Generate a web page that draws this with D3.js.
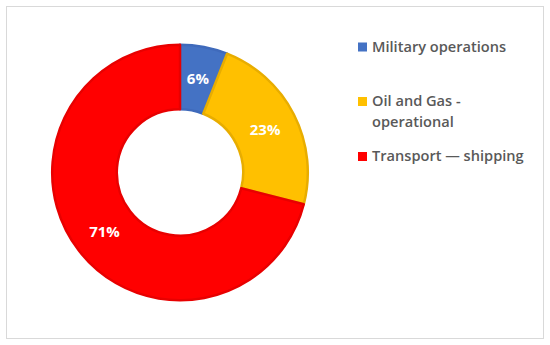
<!DOCTYPE html>
<html>
<head>
<meta charset="utf-8">
<script src="https://cdn.jsdelivr.net/npm/d3@7"></script>
<style>
  body { margin: 0; background: #fff; }
  svg { display: block; }
</style>
</head>
<body>
<div id="donut"></div>
<script>
width = 550
height = 345

const categories = ["Military operations", "Oil and Gas - operational", "Transport \u2014 shipping"]
const legendLines = [["Military operations"], ["Oil and Gas -", "operational"], ["Transport \u2014 shipping"]]
const values = [6, 23, 71]
const colors = ["#4472C4", "#FFC000", "#FF0000"]
const strokes = ["#3f6abb", "#e8ad00", "#e80000"]

const svg = d3.select("#donut")
    .append("svg")
    .attr("width", width)
    .attr("height", height);

// outer frame
svg.append("rect")
    .attr("x", 6.5).attr("y", 6.5)
    .attr("width", 537).attr("height", 332)
    .attr("fill", "none")
    .attr("stroke", "#d9d9d9");

const cx = 180, cy = 172.5
const rOuter = 129, rInner = 62

const g = svg.append("g")
    .attr("transform", "translate(" + cx + "," + cy + ")");

const pie = d3.pie().sort(null).value(d => d)
const arcs = pie(values)

const arc = d3.arc().innerRadius(rInner).outerRadius(rOuter)

g.selectAll("path")
    .data(arcs)
    .join("path")
    .attr("d", d => d3.arc().innerRadius(rInner + 1.2).outerRadius(rOuter - 1.2)(d))
    .attr("fill", (d, i) => colors[i])
    .attr("stroke", (d, i) => strokes[i])
    .attr("stroke-width", 2.5)
    .attr("stroke-linejoin", "round");

g.selectAll("text.lbl")
    .data(arcs)
    .join("text")
    .attr("class", "lbl")
    .attr("transform", d => "translate(" + arc.centroid(d) + ")")
    .attr("text-anchor", "middle")
    .attr("dy", "0.38em")
    .style("font-family", "'Open Sans', sans-serif")
    .style("font-weight", "700")
    .style("font-size", "15px")
    .attr("fill", "#fff")
    .text(d => d.value + "%");

// legend
const legendY = [51.5, 106, 161]
categories.forEach((c, i) => {
    svg.append("rect")
        .attr("x", 358)
        .attr("y", legendY[i] - 9)
        .attr("width", 9)
        .attr("height", 9)
        .attr("fill", colors[i]);
    const t = svg.append("text")
        .attr("x", 372)
        .attr("y", legendY[i])
        .style("font-family", "'Open Sans', sans-serif")
        .style("font-weight", "600")
        .style("font-size", "14.6px")
        .attr("fill", "#595959");
    legendLines[i].forEach((line, j) => {
        t.append("tspan")
            .attr("x", 372)
            .attr("dy", j === 0 ? 0 : 21)
            .text(line);
    });
});
</script>
</body>
</html>
